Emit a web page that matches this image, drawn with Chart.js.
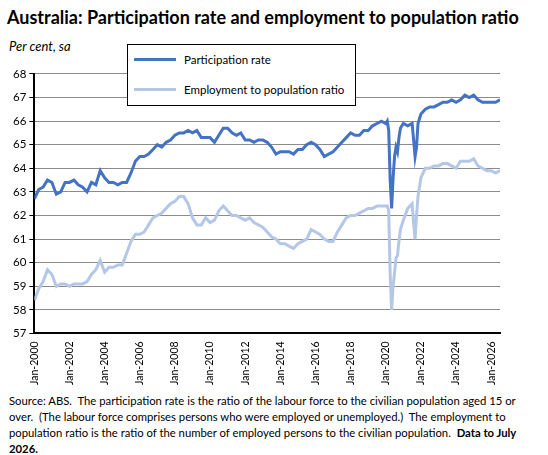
<!DOCTYPE html>
<html><head><meta charset="utf-8">
<script src="https://cdn.jsdelivr.net/npm/chart.js@4"></script>
<style>
body{margin:0;width:548px;height:455px;background:#fff;font-family:Lato,"Liberation Sans",sans-serif;position:relative;overflow:hidden}
#t{position:absolute;left:7px;top:6px;font-size:18px;font-weight:bold;color:#000;white-space:nowrap}
#u{position:absolute;left:9px;top:38px;font-size:13px;font-style:italic}
#c{position:absolute;left:0;top:64px;width:548px;height:324px}
#lg{position:absolute;left:127px;top:44px;width:227px;height:60px;border:1px solid #000;background:#fff;font-size:11.5px}
.li{position:absolute;left:6px;display:flex;align-items:center}
.sw{width:42px;height:3px;margin-right:8px}
#f{position:absolute;left:9px;top:393px;width:535px;font-size:11.3px;line-height:16px}
</style></head><body>
<div id="t">Australia: Participation rate and employment to population ratio</div>
<div id="u">Per cent, sa</div>
<div id="c"><canvas id="cv"></canvas></div>
<div id="lg"><div class="li" style="top:8px"><div class="sw" style="background:#4472C4"></div>Participation rate</div>
<div class="li" style="top:38px"><div class="sw" style="background:#B4C7E7"></div>Employment to population ratio</div></div>
<div id="f">Source: ABS.&nbsp; The participation rate is the ratio of the labour force to the civilian population aged 15 or over.&nbsp; (The labour force comprises persons who were employed or unemployed.)&nbsp; The employment to population ratio is the ratio of the number of employed persons to the civilian population.&nbsp; <b>Data to July 2026.</b></div>
<script>
const dates=[];
for(let y=2000;y<=2019;y++)for(const m of[1,4,7,10])dates.push(y+'-'+m);
const extra=['2020-1','2020-2','2020-3','2020-4','2020-5','2020-6','2020-7','2020-8','2020-9','2020-10','2020-11','2020-12','2021-1','2021-4','2021-7','2021-8','2021-9','2021-10','2021-11','2021-12'];
dates.push(...extra);
for(let y=2022;y<=2025;y++)for(const m of[1,4,7,10])dates.push(y+'-'+m);
dates.push('2026-1','2026-4','2026-7');
const participation=[62.7,63.1,63.2,63.5, 63.4,62.9,63.0,63.4, 63.4,63.5,63.3,63.2, 63.0,63.4,63.3,63.9, 63.6,63.4,63.4,63.3, 63.4,63.4,63.8,64.3, 64.5,64.5,64.6,64.8, 65.0,64.9,65.1,65.2, 65.4,65.5,65.5,65.6, 65.5,65.6,65.3,65.3, 65.3,65.1,65.4,65.7, 65.7,65.5,65.4,65.5, 65.2,65.2,65.1,65.2, 65.2,65.1,64.9,64.6, 64.7,64.7,64.7,64.6, 64.8,64.8,65.0,65.1, 65.0,64.8,64.5,64.6, 64.7,64.9,65.1,65.3, 65.5,65.4,65.4,65.6, 65.6,65.8,65.9,66.0,
65.9,66.0,65.6,63.5,62.3,63.6,64.5,64.9,64.7,65.3,65.7,65.8, 65.9,65.8,65.9,65.2,64.5,64.9,65.9,66.1,
66.3,66.5,66.6,66.6, 66.7,66.8,66.8,66.9, 66.8,66.9,67.1,67.0, 67.1,66.9,66.8,66.8, 66.8,66.8,66.9];
const employment=[58.4,58.9,59.2,59.7, 59.5,59.0,59.1,59.1, 59.0,59.1,59.1,59.1, 59.2,59.5,59.7,60.1, 59.6,59.8,59.8,59.9, 59.9,60.4,60.9,61.2, 61.2,61.3,61.6,61.9, 62.0,62.1,62.3,62.5, 62.6,62.8,62.8,62.5, 61.9,61.6,61.6,61.9, 61.7,61.8,62.2,62.4, 62.2,62.0,62.0,61.9, 61.8,61.9,61.7,61.6, 61.5,61.3,61.1,61.0, 60.8,60.8,60.7,60.6, 60.8,60.9,61.0,61.4, 61.3,61.2,61.0,60.9, 60.9,61.3,61.6,61.9, 62.0,62.0,62.1,62.2, 62.3,62.3,62.4,62.4,
62.4,62.4,62.2,59.5,58.0,59.0,59.6,60.2,60.3,60.9,61.4,61.6, 61.8,62.3,62.5,61.7,61.0,62.0,62.8,63.2,
63.6,64.0,64.0,64.1, 64.1,64.2,64.2,64.1, 64.0,64.3,64.3,64.3, 64.4,64.1,64.0,63.9, 63.9,63.8,63.9];
const xv=dates.map(d=>{const[a,b]=d.split('-').map(Number);return a+(b-1)/12;});
const mk=a=>a.map((v,i)=>({x:xv[i],y:v}));
new Chart(document.getElementById('cv'),{type:'line',
data:{datasets:[
{label:'Employment to population ratio',data:mk(employment),borderColor:'#B4C7E7',borderWidth:3,pointRadius:0,tension:0},
{label:'Participation rate',data:mk(participation),borderColor:'#4472C4',borderWidth:3,pointRadius:0,tension:0}]},
options:{responsive:true,maintainAspectRatio:false,animation:false,
layout:{padding:{left:10,right:48,top:8,bottom:0}},
plugins:{legend:{display:false},tooltip:{enabled:false}},
scales:{
x:{type:'linear',min:2000,max:2026.5,border:{color:'#000',width:2},
grid:{display:false,drawTicks:true,tickLength:5,tickColor:'#000'},
afterBuildTicks:s=>{s.ticks=[];for(let y=2000;y<=2026;y+=2)s.ticks.push({value:y});},
ticks:{color:'#000',font:{size:10.5,family:'Lato'},maxRotation:90,minRotation:90,callback:v=>'Jan-'+v}},
y:{min:57,max:68,border:{color:'#000',width:2},
grid:{color:'#8c8c8c',drawTicks:true,tickLength:5,tickColor:'#000'},
ticks:{stepSize:1,color:'#000',font:{size:11.5,family:'Lato'}}}}}});
</script></body></html>
